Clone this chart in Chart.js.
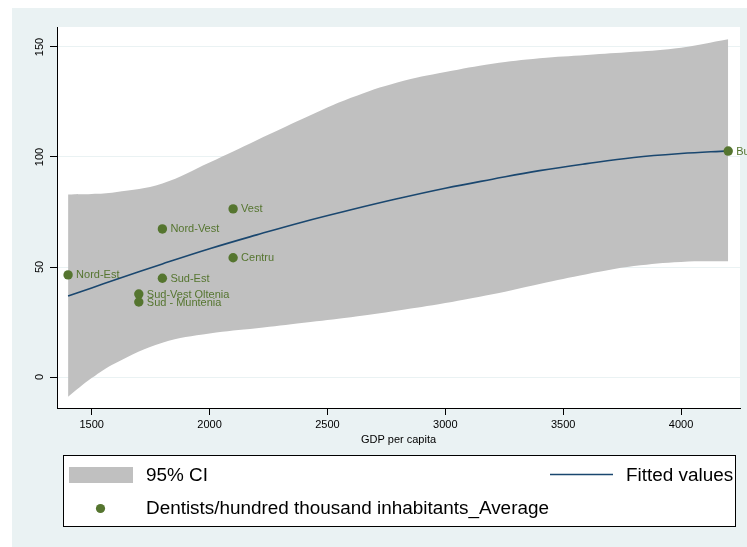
<!DOCTYPE html>
<html>
<head>
<meta charset="utf-8">
<title>Dentists and GDP per capita</title>
<script src="https://cdn.jsdelivr.net/npm/chart.js@4.4.1/dist/chart.umd.min.js"></script>
<style>
  html, body { margin: 0; padding: 0; background: #ffffff; }
  #wrap { width: 747px; height: 547px; }
</style>
</head>
<body>
<div id="wrap"><canvas id="chart" width="747" height="547"></canvas></div>
<script>
// Development regions: GDP per capita vs dentists per 100,000 inhabitants
const regions = ["Nord-Est", "Nord-Vest", "Vest", "Centru", "Sud-Est", "Sud-Vest Oltenia", "Sud - Muntenia", "Bucuresti - Ilfov"];
const gdpPerCapita = [1400, 1800, 2100, 2100, 1800, 1700, 1700, 4200];
const dentists = [46.4, 67.3, 76.4, 54.2, 44.9, 37.7, 34.1, 102.7];

// Quadratic fit and its 95% confidence band, sampled along GDP per capita
const fitX = [1400, 1500, 1600, 1800, 2000, 2200, 2400, 2600, 2800, 3000, 3200, 3400, 3600, 3800, 4000, 4200];
const fitted = [36.8, 40.5, 44.2, 51.4, 58.3, 64.6, 70.6, 76.0, 81.1, 85.8, 89.9, 93.8, 97.0, 99.8, 101.6, 102.8];
const ciUpper = [83.0, 83.2, 84.0, 88.0, 97.5, 107.6, 117.6, 126.9, 134.0, 138.6, 142.4, 144.9, 146.4, 147.8, 149.7, 153.5];
const ciLower = [-9.0, -0.5, 6.3, 15.6, 19.8, 22.2, 24.7, 27.2, 30.2, 33.6, 37.6, 42.3, 46.7, 50.4, 52.3, 52.6];

const xTicks = [1500, 2000, 2500, 3000, 3500, 4000];
const yTicks = [0, 50, 100, 150];

const FONT = '"Liberation Sans", Arial, Helvetica, sans-serif';
const NAVY = '#1A476F';
const GREEN = '#55752F';
const CI_GRAY = '#C0C0C0';
const REGION_BG = '#EAF2F3';

Chart.defaults.font.family = FONT;
Chart.defaults.color = '#000000';

const toXY = (xs, ys) => xs.map((x, i) => ({ x: x, y: ys[i] }));

// Page backgrounds: outer graph region and white plot region
const backgroundPlugin = {
  id: 'backgrounds',
  beforeDraw(chart) {
    const { ctx, chartArea, width, height } = chart;
    ctx.save();
    ctx.fillStyle = '#ffffff';
    ctx.fillRect(0, 0, width, height);
    ctx.fillStyle = REGION_BG;
    ctx.fillRect(12, 8, width - 12, height - 8);
    ctx.fillStyle = '#ffffff';
    ctx.fillRect(chartArea.left, chartArea.top, chartArea.right - chartArea.left, chartArea.bottom - chartArea.top);
    ctx.restore();
  }
};

// Region names written to the right of each marker
const markerLabelPlugin = {
  id: 'markerLabels',
  afterDatasetsDraw(chart) {
    const meta = chart.getDatasetMeta(0);
    const { ctx } = chart;
    ctx.save();
    ctx.font = '11px ' + FONT;
    ctx.fillStyle = GREEN;
    ctx.textAlign = 'left';
    ctx.textBaseline = 'middle';
    meta.data.forEach((pt, i) => {
      ctx.fillText(regions[i], pt.x + 8, pt.y + 0.5);
    });
    ctx.restore();
  }
};

// Boxed key under the plot: two columns on the first row, one entry on the second
const keyPlugin = {
  id: 'boxedKey',
  afterDraw(chart) {
    const { ctx } = chart;
    const ds = chart.data.datasets;
    ctx.save();
    ctx.fillStyle = '#ffffff';
    ctx.fillRect(63.5, 455.5, 672, 71);
    ctx.strokeStyle = '#000000';
    ctx.lineWidth = 1;
    ctx.strokeRect(63.5, 455.5, 672, 71);

    ctx.font = '18.9px ' + FONT;
    ctx.fillStyle = '#000000';
    ctx.textAlign = 'left';
    ctx.textBaseline = 'middle';

    ctx.fillStyle = ds[2].backgroundColor;
    ctx.fillRect(69, 467, 64, 16);
    ctx.fillStyle = '#000000';
    ctx.fillText(ds[2].label, 146, 475.5);

    ctx.strokeStyle = ds[1].borderColor;
    ctx.lineWidth = 1.6;
    ctx.beginPath();
    ctx.moveTo(550, 474.5);
    ctx.lineTo(613, 474.5);
    ctx.stroke();
    ctx.fillText(ds[1].label, 626, 475.5);

    ctx.fillStyle = ds[0].backgroundColor;
    ctx.beginPath();
    ctx.arc(100.5, 508.5, 4.6, 0, Math.PI * 2);
    ctx.fill();
    ctx.fillStyle = '#000000';
    ctx.fillText(ds[0].label, 146, 509);
    ctx.restore();
  }
};

new Chart(document.getElementById('chart'), {
  type: 'scatter',
  data: {
    datasets: [
      {
        label: 'Dentists/hundred thousand inhabitants_Average',
        data: toXY(gdpPerCapita, dentists),
        backgroundColor: GREEN,
        borderWidth: 0,
        pointRadius: 4.7,
        pointHoverRadius: 4.7,
        order: 0
      },
      {
        type: 'line',
        label: 'Fitted values',
        data: toXY(fitX, fitted),
        borderColor: NAVY,
        borderWidth: 1.6,
        pointRadius: 0,
        fill: false,
        tension: 0.4,
        order: 1
      },
      {
        type: 'line',
        label: '95% CI',
        data: toXY(fitX, ciUpper),
        borderWidth: 0,
        borderColor: 'rgba(0,0,0,0)',
        backgroundColor: CI_GRAY,
        pointRadius: 0,
        fill: '+1',
        tension: 0.4,
        order: 2
      },
      {
        type: 'line',
        label: '95% CI lower',
        data: toXY(fitX, ciLower),
        borderWidth: 0,
        borderColor: 'rgba(0,0,0,0)',
        pointRadius: 0,
        fill: false,
        tension: 0.4,
        order: 3
      }
    ]
  },
  options: {
    responsive: false,
    animation: false,
    devicePixelRatio: 1,
    layout: { padding: { left: 12, right: 7, top: 27, bottom: 99 } },
    plugins: {
      legend: { display: false },
      tooltip: { enabled: false }
    },
    scales: {
      x: {
        type: 'linear',
        min: 1353,
        max: 4250,
        afterBuildTicks: (scale) => { scale.ticks = xTicks.map(v => ({ value: v })); },
        afterFit: (scale) => { scale.height = 40; },
        grid: { drawOnChartArea: false, tickLength: 7, tickColor: '#000000', tickWidth: 1 },
        border: { color: '#000000', width: 1 },
        ticks: { font: { size: 11 }, color: '#000000', padding: 3.5, maxRotation: 0, minRotation: 0, callback: (v) => String(v) },
        title: { display: true, text: 'GDP per capita', font: { size: 11 }, color: '#000000', padding: { top: 0, bottom: 1.4 } }
      },
      y: {
        type: 'linear',
        min: -14.09,
        max: 159.09,
        afterBuildTicks: (scale) => { scale.ticks = yTicks.map(v => ({ value: v })); },
        afterFit: (scale) => { scale.width = 45; },
        grid: { color: REGION_BG, lineWidth: 1, tickLength: 7, tickColor: '#000000', tickWidth: 1 },
        border: { color: '#000000', width: 1 },
        ticks: { font: { size: 11 }, color: '#000000', padding: 1, minRotation: 90, maxRotation: 90, crossAlign: 'center', callback: (v) => String(v) }
      }
    }
  },
  plugins: [backgroundPlugin, markerLabelPlugin, keyPlugin]
});
</script>
</body>
</html>
